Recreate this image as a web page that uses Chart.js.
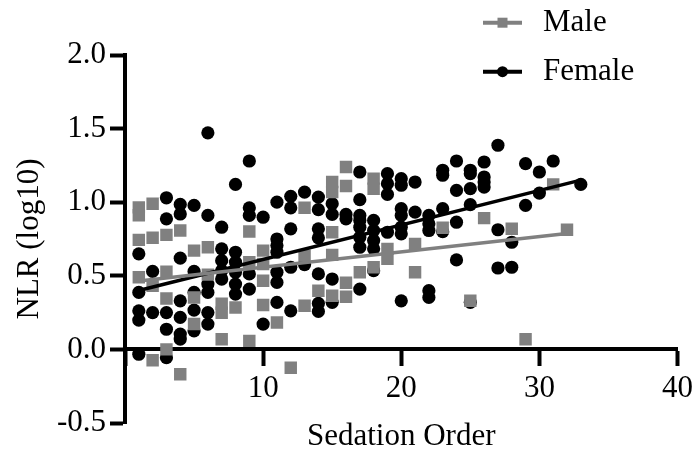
<!DOCTYPE html>
<html><head><meta charset="utf-8">
<script src="https://cdn.jsdelivr.net/npm/chart.js@4/dist/chart.umd.min.js"></script>
<style>html,body{margin:0;padding:0;background:#fff}#wrap{width:699px;height:450px;position:relative}</style>
</head><body><div id="wrap"><canvas id="c" width="699" height="450"></canvas></div>
<script>
const legendLabels = ['Male', 'Female'];
const xTickValues = [10, 20, 30, 40];
const yTickValues = [-0.5, 0.0, 0.5, 1.0, 1.5, 2.0];

const maleX = [1,1,1,1, 2,2,2,2, 3,3,3,3, 4,4, 5,5,5, 6,6, 7,7,7, 8, 9,9,9, 10,10,10,10, 11, 12, 13,13,13, 14, 15,15,15,15,15, 16,16,16,16, 17, 18,18,18, 19,19, 21,21, 23, 25, 26, 28, 29, 31, 32];
const maleY = [0.965,0.912,0.744,0.49, 0.99,0.758,0.433,-0.074, 0.778,0.528,0.346,0.0, 0.808,-0.169, 0.671,0.353,0.172, 0.694,0.508, 0.31,0.249,0.069, 0.285, 0.801,0.592,0.058, 0.671,0.58,0.467,0.301, 0.183, -0.124, 0.962,0.637,0.297, 0.399, 1.137,1.069,0.796,0.642,0.365, 1.239,1.11,0.453,0.358, 0.524, 1.16,1.092,0.558, 0.683,0.615, 0.717,0.524, 0.826, 0.33, 0.892, 0.819, 0.069, 1.121, 0.813];

const femaleX = [1,1,1,1,1, 2,2, 3,3,3,3,3, 4,4,4,4,4,4,4, 5,5,5,5,5, 6,6,6,6,6,6, 7,7,7,7,7, 8,8,8,8,8,8, 9,9,9,9,9, 10,10, 11,11,11,11,11,11,11, 12,12,12,12,12, 13,13, 14,14,14,14,14,14,14, 15,15,15,15, 16,16, 17,17,17,17,17,17,17,17, 18,18,18,18,18, 19,19,19,19, 20,20,20,20,20,20,20, 21,21, 22,22,22,22,22, 23,23,23,23, 24,24,24,24, 25,25,25,25,25, 26,26,26,26, 27,27,27, 28,28, 29,29, 30,30, 31, 33];
const femaleY = [0.649,0.387,0.262,0.199,-0.033, 0.53,0.25, 1.03,0.887,0.25,0.137,-0.056, 0.985,0.92,0.62,0.33,0.217,0.104,0.07, 0.978,0.53,0.387,0.267,0.126, 1.471,0.91,0.444,0.387,0.25,0.172, 0.83,0.683,0.603,0.535,0.478, 1.121,0.66,0.592,0.524,0.444,0.376, 1.28,0.962,0.91,0.513,0.41, 0.898,0.172, 1.0,0.75,0.705,0.66,0.524,0.455,0.319, 1.04,0.962,0.819,0.558,0.262, 1.069,0.576, 1.035,0.949,0.819,0.758,0.513,0.312,0.258, 0.99,0.917,0.478,0.32, 0.917,0.887, 1.205,1.017,0.91,0.876,0.83,0.762,0.694,0.41, 0.876,0.808,0.74,0.683,0.535, 1.194,1.126,1.053,0.796, 1.16,1.115,0.956,0.91,0.83,0.785,0.33, 1.137,0.933, 0.91,0.853,0.808,0.399,0.353, 1.217,1.183,0.956,0.80, 1.28,1.08,0.864,0.608, 1.217,1.194,1.092,0.983,0.32, 1.273,1.171,1.137,1.103, 1.387,0.813,0.553, 0.728,0.558, 1.262,0.978, 1.205,1.062, 1.28, 1.121];

const maleFitX = [1, 32];
const maleFitY = [0.465, 0.788];
const femaleFitX = [1, 33];
const femaleFitY = [0.40, 1.15];

const GRAY = '#808080';
const FONT = "'Liberation Serif', 'Times New Roman', serif";
const FS = 31;

function pts(xs, ys) { return xs.map((x, i) => ({x: x, y: ys[i]})); }

const legendPlugin = {
  id: 'cornerLegend',
  afterDraw(chart) {
    const ctx = chart.ctx;
    ctx.save();
    const items = [
      {label: legendLabels[0], color: GRAY, shape: 'rect', y: 22.7},
      {label: legendLabels[1], color: '#000', shape: 'circle', y: 71.7}
    ];
    items.forEach(it => {
      ctx.strokeStyle = it.color;
      ctx.lineWidth = 4;
      ctx.beginPath(); ctx.moveTo(483, it.y); ctx.lineTo(522, it.y); ctx.stroke();
      ctx.fillStyle = it.color;
      if (it.shape === 'rect') { ctx.fillRect(497.5, it.y - 5, 10, 10); }
      else { ctx.beginPath(); ctx.arc(502.5, it.y, 5.5, 0, Math.PI * 2); ctx.fill(); }
      ctx.fillStyle = '#000';
      ctx.font = FS + 'px ' + FONT;
      ctx.textBaseline = 'middle';
      ctx.textAlign = 'left';
      ctx.fillText(it.label, 543, it.y);
    });
    ctx.restore();
  }
};

new Chart(document.getElementById('c'), {
  type: 'scatter',
  data: {
    datasets: [
      {label: 'Male fit', type: 'line', data: pts(maleFitX, maleFitY), borderColor: GRAY, borderWidth: 3.5, pointRadius: 0, fill: false, order: 0},
      {label: 'Female fit', type: 'line', data: pts(femaleFitX, femaleFitY), borderColor: '#000', borderWidth: 3.5, pointRadius: 0, fill: false, order: 1},
      {label: legendLabels[0], data: pts(maleX, maleY), pointStyle: 'rect', pointRadius: 8.8, pointHoverRadius: 8.8, backgroundColor: GRAY, borderWidth: 0, order: 2},
      {label: legendLabels[1], data: pts(femaleX, femaleY), pointStyle: 'circle', pointRadius: 6.6, pointHoverRadius: 6.6, backgroundColor: '#000', borderWidth: 0, order: 3}
    ]
  },
  options: {
    responsive: false,
    animation: false,
    devicePixelRatio: 1,
    layout: {padding: {left: 0, top: 55, right: 18, bottom: 27}},
    plugins: {legend: {display: false}, tooltip: {enabled: false}},
    scales: {
      x: {
        type: 'linear', min: 0, max: 40,
        position: {y: 0},
        afterBuildTicks(scale) { scale.ticks = [0].concat(xTickValues).map(v => ({value: v})); },
        ticks: {
          callback: v => (v === 0 ? '' : String(v)),
          color: '#000', font: {family: FONT, size: FS}, padding: 6, maxRotation: 0, autoSkip: false
        },
        grid: {display: true, drawOnChartArea: false, drawTicks: true, tickLength: 15, tickWidth: 4, tickColor: '#000'},
        border: {display: true, color: '#000', width: 4},
        title: {display: true, text: 'Sedation Order', color: '#000', font: {family: FONT, size: FS}, padding: {top: 5, bottom: 0}}
      },
      y: {
        type: 'linear', min: -0.5, max: 2.0,
        position: 'left',
        afterBuildTicks(scale) { scale.ticks = yTickValues.map(v => ({value: v})); },
        afterFit(scale) { scale.width = 125; },
        ticks: {
          callback: v => Number(v).toFixed(1),
          color: '#000', font: {family: FONT, size: FS}, padding: 4, autoSkip: false
        },
        grid: {display: true, drawOnChartArea: false, drawTicks: true, tickLength: 15, tickWidth: 4, tickColor: '#000'},
        border: {display: true, color: '#000', width: 4},
        title: {display: true, text: 'NLR (log10)', color: '#000', font: {family: FONT, size: FS}, padding: {top: 11, bottom: 0}}
      }
    }
  },
  plugins: [legendPlugin]
});
</script>
</body></html>
